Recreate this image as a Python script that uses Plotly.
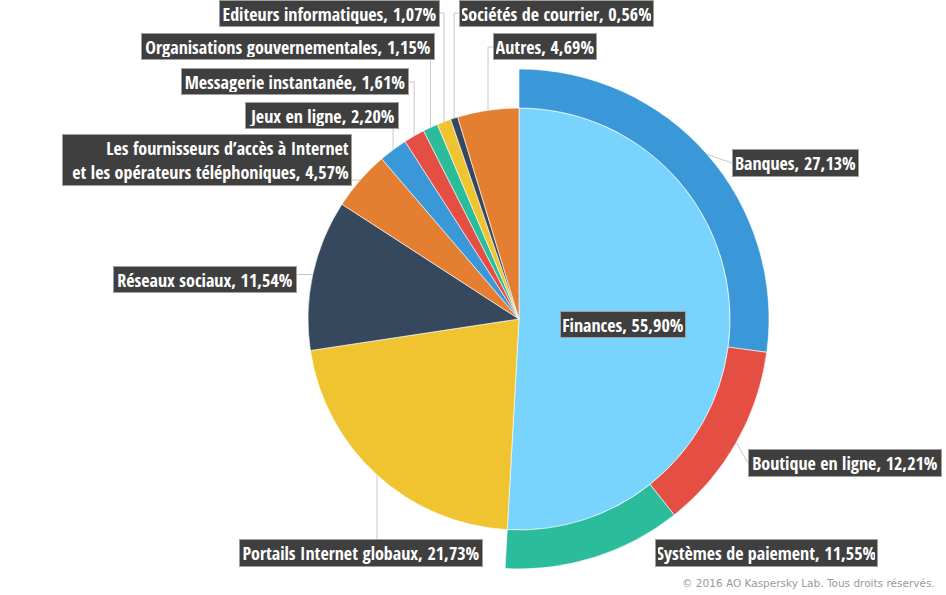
import math
import plotly.graph_objects as go

W, H = 946, 595

# ---- data ----
inner_labels = [
    "Finances",
    "Portails Internet globaux",
    "Réseaux sociaux",
    "Les fournisseurs d’accès à Internet<br>et les opérateurs téléphoniques",
    "Jeux en ligne",
    "Messagerie instantanée",
    "Organisations gouvernementales",
    "Editeurs informatiques",
    "Sociétés de courrier",
    "Autres",
]
# angular share as drawn in the picture (Finances drawn as the sum of its parts)
inner_values = [50.89, 21.73, 11.54, 4.57, 2.20, 1.61, 1.15, 1.07, 0.56, 4.69]
inner_pct = ["55,90%", "21,73%", "11,54%", "4,57%", "2,20%", "1,61%",
             "1,15%", "1,07%", "0,56%", "4,69%"]
inner_colors = ["#78d3fd", "#f0c330", "#36485e", "#e47f31", "#3a98d8",
                "#e54f43", "#2bbc9c", "#f0c330", "#36485e", "#e47f31"]

outer_labels = ["Banques", "Boutique en ligne", "Systèmes de paiement"]
outer_values = [27.13, 12.21, 11.55]
outer_pct = ["27,13%", "12,21%", "11,55%"]
outer_colors = ["#3a98d8", "#e54f43", "#2bbc9c"]

copyright_text = "© 2016 AO Kaspersky Lab. Tous droits réservés."

# ---- layout (pixel positions of the label boxes: centre x, centre y, width, height) ----
CX, CY = 519, 319
R_IN, R_OUT = 211, 250

inner_boxes = [
    (623, 324.5, 126, 27, None),
    (361, 553, 244, 28, ("v", 539)),
    (205, 279.5, 184, 27, ("h", 297)),
    (207, 160, 290, 52, ("h", 352)),
    (322, 115.5, 154, 27, ("v", 129)),
    (295, 81.5, 228, 27, ("e", 409, 82)),
    (288, 47, 294, 27, ("v", 60)),
    (329.5, 13, 221, 27, ("e", 440, 13)),
    (556.5, 13, 195, 27, ("e", 459, 13)),
    (545, 47, 104, 27, ("e", 493, 47)),
]
outer_boxes = [
    (795.5, 163, 127, 28, ("d", 732, 163)),
    (845, 463, 194, 28, ("d", 748, 463)),
    (766.5, 553, 223, 28, None),
]


def px(x):
    return x / W


def py(y):
    return 1 - y / H


total = sum(inner_values)
rest = total - sum(outer_values)

fig = go.Figure()

fig.add_trace(go.Pie(
    labels=inner_labels, values=inner_values, sort=False,
    direction="clockwise", rotation=0,
    marker=dict(colors=inner_colors, line=dict(color="white", width=0.6)),
    textinfo="none", hoverinfo="label",
    domain=dict(x=[px(CX - R_IN), px(CX + R_IN)], y=[py(CY + R_IN), py(CY - R_IN)]),
    showlegend=False,
))

fig.add_trace(go.Pie(
    labels=outer_labels + [""], values=outer_values + [rest], sort=False,
    direction="clockwise", rotation=0, hole=R_IN / R_OUT,
    marker=dict(colors=outer_colors + ["rgba(0,0,0,0)"],
                line=dict(color=["white", "white", "white", "rgba(0,0,0,0)"], width=0.6)),
    textinfo="none", hoverinfo="skip",
    domain=dict(x=[px(CX - R_OUT), px(CX + R_OUT)], y=[py(CY + R_OUT), py(CY - R_OUT)]),
    showlegend=False,
))

FONT = "Open Sans Condensed, Roboto Condensed, DejaVu Sans Condensed, sans-serif"
PAD, BW = 2, 1
annotations = []
shapes = []
LINE = dict(color="#c8c8c8", width=1)


def seg(x0, y0, x1, y1):
    shapes.append(dict(type="line", xref="paper", yref="paper",
                       x0=px(x0), y0=py(y0), x1=px(x1), y1=py(y1), line=LINE))


def add_group(labels, values, pcts, boxes, radius):
    cum = 0.0
    for lab, val, pct, box in zip(labels, values, pcts, boxes):
        mid = (cum + val / 2) / total
        cum += val
        th = 2 * math.pi * mid
        ax = CX + radius * math.sin(th)
        ay = CY - radius * math.cos(th)
        bx, by, bw, bh, lead = box
        if lead is not None:
            kind = lead[0]
            if kind == "v":
                seg(ax, ay, ax, lead[1])
            elif kind == "h":
                seg(ax, ay, lead[1], ay)
            elif kind == "e":
                seg(ax, ay, ax, lead[2])
                seg(ax, lead[2], lead[1], lead[2])
            elif kind == "d":
                seg(ax, ay, lead[1], lead[2])
        annotations.append(dict(
            x=px(bx), y=py(by), xref="paper", yref="paper",
            xanchor="center", yanchor="middle", showarrow=False,
            text=f"{lab}, {pct}", align="right" if "<br>" in lab else "center",
            valign="middle",
            width=bw - 2 * (PAD + BW), height=bh - 2 * (PAD + BW),
            font=dict(family=FONT, size=18, color="white", weight="bold"),
            bgcolor="#3f3f3f", bordercolor="#a0a0a0", borderwidth=BW, borderpad=PAD,
        ))


add_group(inner_labels, inner_values, inner_pct, inner_boxes, R_IN)
add_group(outer_labels, outer_values, outer_pct, outer_boxes, R_OUT)

annotations.append(dict(
    x=px(937), y=py(583), xref="paper", yref="paper", xanchor="right",
    yanchor="middle", showarrow=False, text=copyright_text,
    font=dict(family="DejaVu Sans, sans-serif", size=10.5, color="#9a9a9a"),
))

fig.update_layout(
    width=W, height=H, margin=dict(l=0, r=0, t=0, b=0),
    paper_bgcolor="white", plot_bgcolor="white",
    annotations=annotations, shapes=shapes,
)

fig.write_html(
    "out.html",
    config={"displayModeBar": False},
    post_script="document.body.style.margin='0';document.body.style.overflow='hidden';",
)
